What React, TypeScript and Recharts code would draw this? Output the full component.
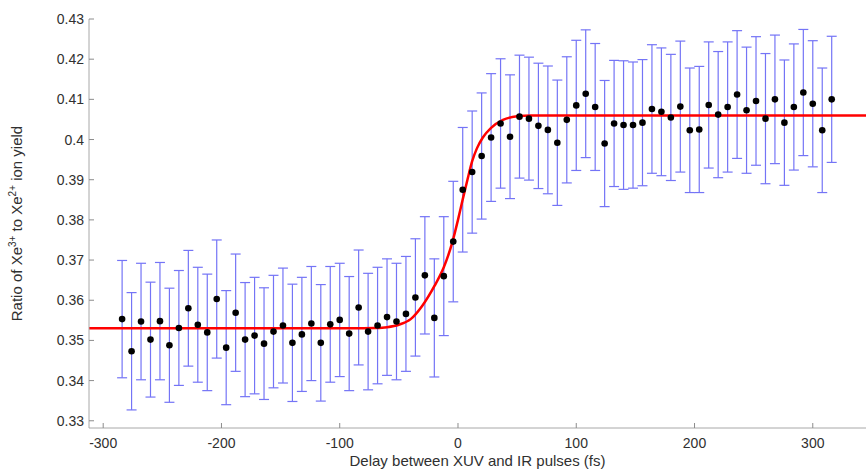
import React from 'react';
import { ComposedChart, XAxis, YAxis, Scatter, Line, Label } from 'recharts';

// Delay between XUV and IR pulses (fs)
const delays = [
  -284, -276, -268, -260, -252, -244, -236, -228, -220, -212,
  -204, -196, -188, -180, -172, -164, -156, -148, -140, -132,
  -124, -116, -108, -100, -92, -84, -76, -68, -60, -52,
  -44, -36, -28, -20, -12, -4, 4, 12, 20, 28,
  36, 44, 52, 60, 68, 76, 84, 92, 100, 108,
  116, 124, 132, 140, 148, 156, 164, 172, 180, 188,
  196, 204, 212, 220, 228, 236, 244, 252, 260, 268,
  276, 284, 292, 300, 308, 316,
];

// Ratio of Xe3+ to Xe2+ ion yield (measured)
const ratios = [
  0.3553, 0.3473, 0.3547, 0.3502, 0.3548, 0.3488, 0.3531, 0.3580, 0.3539, 0.3520,
  0.3603, 0.3482, 0.3569, 0.3502, 0.3512, 0.3492, 0.3522, 0.3537, 0.3494, 0.3515,
  0.3542, 0.3494, 0.3540, 0.3551, 0.3517, 0.3582, 0.3522, 0.3537, 0.3558, 0.3547,
  0.3566, 0.3607, 0.3662, 0.3556, 0.3660, 0.3746, 0.3875, 0.3919, 0.3959, 0.4005,
  0.4040, 0.4007, 0.4057, 0.4052, 0.4034, 0.4024, 0.3992, 0.4049, 0.4085, 0.4114,
  0.4081, 0.3990, 0.4040, 0.4036, 0.4036, 0.4042, 0.4076, 0.4069, 0.4055, 0.4082,
  0.4023, 0.4025, 0.4086, 0.4062, 0.4081, 0.4112, 0.4073, 0.4096, 0.4052, 0.4100,
  0.4042, 0.4081, 0.4117, 0.4089, 0.4023, 0.4100,
];

// Half-length of the error bars
const errors = [
  0.0146, 0.0146, 0.0145, 0.0143, 0.0146, 0.0142, 0.0143, 0.0144, 0.0143, 0.0145,
  0.0147, 0.0142, 0.0146, 0.0142, 0.0145, 0.0139, 0.0140, 0.0143, 0.0146, 0.0142,
  0.0142, 0.0145, 0.0144, 0.0141, 0.0142, 0.0143, 0.0145, 0.0145, 0.0145, 0.0145,
  0.0143, 0.0146, 0.0146, 0.0147, 0.0148, 0.0150, 0.0155, 0.0152, 0.0157, 0.0159,
  0.0161, 0.0154, 0.0153, 0.0153, 0.0156, 0.0159, 0.0156, 0.0157, 0.0162, 0.0159,
  0.0158, 0.0157, 0.0157, 0.0160, 0.0157, 0.0157, 0.0160, 0.0159, 0.0157, 0.0163,
  0.0155, 0.0157, 0.0157, 0.0157, 0.0162, 0.0159, 0.0157, 0.0160, 0.0162, 0.0160,
  0.0156, 0.0157, 0.0157, 0.0157, 0.0155, 0.0157,
];

// Fitted step curve
const fitDelays = [-312, -90, -70, -60, -50, -40, -30, -20, -12, -5, 0, 4, 8, 12, 16, 21, 28, 38, 50, 62, 345];
const fitValues = [
  0.3530, 0.3530, 0.3531, 0.3533, 0.3539, 0.3553, 0.3587, 0.3635, 0.3682, 0.3742,
  0.3800, 0.3851, 0.3900, 0.3946, 0.3978, 0.4005, 0.4029, 0.4049, 0.4058, 0.4060, 0.4060,
];

const xTicks = [-300, -200, -100, 0, 100, 200, 300];
const yTicks = [0.33, 0.34, 0.35, 0.36, 0.37, 0.38, 0.39, 0.4, 0.41, 0.42, 0.43];

const points = delays.map((t, i) => ({ t, ratio: ratios[i] }));
const bars = delays.map((t, i) => [
  { t, eb: ratios[i] - errors[i] },
  { t, eb: ratios[i] + errors[i] },
]);
const fit = fitDelays.map((t, i) => ({ t, fitv: fitValues[i] }));

const AXIS = '#a8a8a8';
const TICK = '#8c8c8c';
const TEXT = '#303030';
const BAR = '#7474f6';
const FONT = '"Liberation Sans", Arial, Helvetica, sans-serif';
const TL = 5;

const fmtY = (v: number) => String(Number(v.toFixed(2)));

function BottomTick(props: any) {
  const { x, y, payload } = props;
  return (
    <g>
      <line x1={x} x2={x} y1={y} y2={y - TL} stroke={TICK} strokeWidth={1} />
      <text x={x} y={y + 20} textAnchor="middle" fontSize={14} fill={TEXT} fontFamily={FONT}>
        {payload.value}
      </text>
    </g>
  );
}

function TopTick(props: any) {
  const { x, y } = props;
  return <line x1={x} x2={x} y1={y} y2={y + TL} stroke={TICK} strokeWidth={1} />;
}

function LeftTick(props: any) {
  const { x, y, payload } = props;
  return (
    <g>
      <line x1={x} x2={x + TL} y1={y} y2={y} stroke={TICK} strokeWidth={1} />
      <text x={x - 5} y={y + 5} textAnchor="end" fontSize={14} fill={TEXT} fontFamily={FONT}>
        {fmtY(payload.value)}
      </text>
    </g>
  );
}

function RightTick(props: any) {
  const { x, y } = props;
  return <line x1={x} x2={x - TL} y1={y} y2={y} stroke={TICK} strokeWidth={1} />;
}

function XLabel(props: any) {
  const vb = props.viewBox || { x: 89, y: 428, width: 777, height: 41 };
  return (
    <text x={vb.x + vb.width / 2} y={vb.y + 38} textAnchor="middle" fontSize={15} fill={TEXT} fontFamily={FONT}>
      Delay between XUV and IR pulses (fs)
    </text>
  );
}

function YLabel(props: any) {
  const vb = props.viewBox || { x: 0, y: 19, width: 89, height: 409 };
  const cy = vb.y + vb.height / 2;
  return (
    <text transform={`translate(22, ${cy}) rotate(-90)`} textAnchor="middle" fontSize={15} fill={TEXT} fontFamily={FONT}>
      <tspan>Ratio of Xe</tspan>
      <tspan fontSize={10} dy={-6}>3+</tspan>
      <tspan dy={6}> to Xe</tspan>
      <tspan fontSize={10} dy={-6}>2+</tspan>
      <tspan dy={6}> ion yield</tspan>
    </text>
  );
}

const Cap = (p: any) => (
  <line key={p.key ?? p.index} x1={p.cx - 5} x2={p.cx + 5} y1={p.cy} y2={p.cy} stroke={BAR} strokeWidth={1.2} />
);
const Dot = (p: any) => <circle cx={p.cx} cy={p.cy} r={3.3} fill="#000" />;

export default function App() {
  return (
    <div style={{ position: 'absolute', left: 0, top: 0, width: 867, height: 469, background: '#fff' }}>
      <ComposedChart width={867} height={469} margin={{ top: 19, right: 1, bottom: 0, left: 0 }}>
        <XAxis
          xAxisId="b"
          dataKey="t"
          type="number"
          domain={[-312, 345]}
          ticks={xTicks}
          allowDataOverflow
          allowDuplicatedCategory
          height={41}
          axisLine={{ stroke: AXIS }}
          tickLine={false}
          tickSize={0}
          tickMargin={0}
          tick={<BottomTick />}
          interval={0}
        >
          <Label content={<XLabel />} />
        </XAxis>
        <XAxis
          xAxisId="top"
          orientation="top"
          type="number"
          dataKey="t"
          domain={[-312, 345]}
          ticks={xTicks}
          allowDataOverflow
          height={0}
          axisLine={{ stroke: AXIS }}
          tickLine={false}
          tickSize={0}
          tickMargin={0}
          tick={<TopTick />}
          interval={0}
        />
        <YAxis
          yAxisId="l"
          type="number"
          domain={[0.3282, 0.43]}
          ticks={yTicks}
          allowDataOverflow
          width={89}
          axisLine={{ stroke: AXIS }}
          tickLine={false}
          tickSize={0}
          tickMargin={0}
          tick={<LeftTick />}
          interval={0}
        >
          <Label content={<YLabel />} />
        </YAxis>
        <YAxis
          yAxisId="r"
          orientation="right"
          type="number"
          domain={[0.3282, 0.43]}
          ticks={yTicks}
          allowDataOverflow
          width={0}
          axisLine={{ stroke: AXIS }}
          tickLine={false}
          tickSize={0}
          tickMargin={0}
          tick={<RightTick />}
          interval={0}
        />
        {bars.map((b, i) => (
          <Line
            key={`bar-${i}`}
            xAxisId="b"
            yAxisId="l"
            data={b}
            dataKey="eb"
            type="linear"
            stroke={BAR}
            strokeWidth={1.2}
            dot={Cap}
            activeDot={false}
            legendType="none"
            isAnimationActive={false}
          />
        ))}
        <Line
          xAxisId="b"
          yAxisId="l"
          data={fit}
          dataKey="fitv"
          type="monotone"
          stroke="#ff0000"
          strokeWidth={2.5}
          dot={false}
          activeDot={false}
          isAnimationActive={false}
        />
        <Scatter
          xAxisId="b"
          yAxisId="l"
          data={points}
          dataKey="ratio"
          shape={Dot}
          isAnimationActive={false}
        />
      </ComposedChart>
    </div>
  );
}
